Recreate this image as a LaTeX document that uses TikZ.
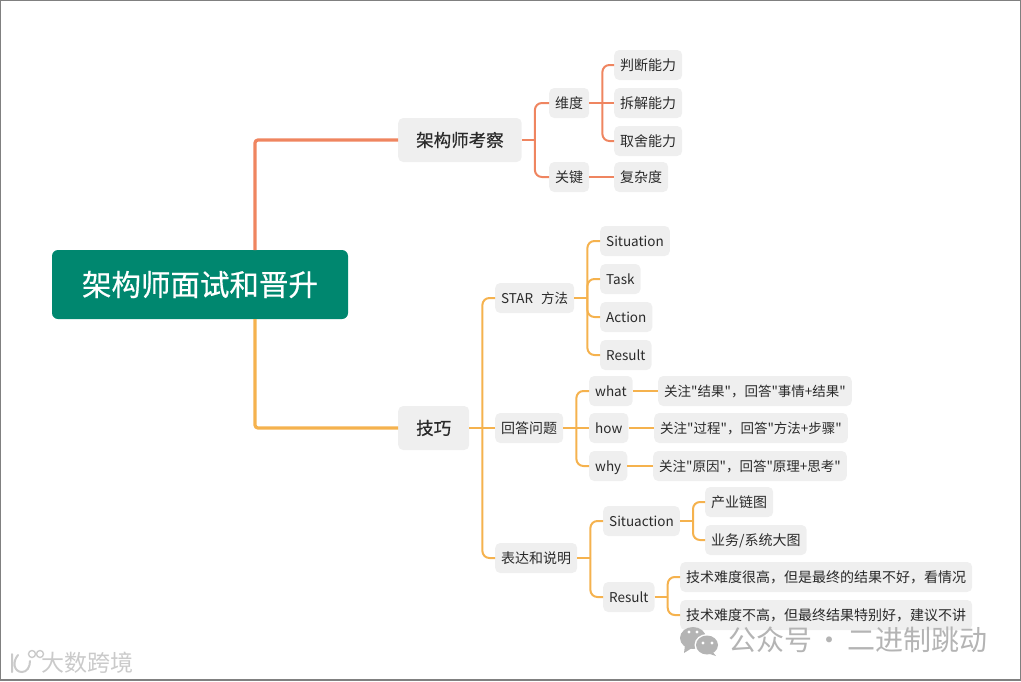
\documentclass[tikz,border=0pt]{standalone}
\usepackage{fontspec}
\setmainfont{Noto Sans CJK SC}[Ligatures=TeXOff]
\newfontfamily\headfont{Noto Sans CJK SC}[FakeBold=0.5]
\definecolor{rootgreen}{HTML}{00876F}
\definecolor{boxgray}{HTML}{EFEFEF}
\definecolor{redline}{HTML}{EF8560}
\definecolor{amberline}{HTML}{F5B24E}
\definecolor{inkgray}{HTML}{2A2A2A}
\definecolor{markgray}{HTML}{B4B4B4}
\tikzset{
  rootbox/.style={rectangle, rounded corners=6pt, fill=rootgreen, text=white,
    minimum width=296pt, minimum height=69pt, inner sep=0pt,
    font=\headfont\fontsize{29.5}{32}\selectfont},
  topicbox/.style={rectangle, rounded corners=5pt, fill=boxgray, text=inkgray,
    anchor=west, minimum height=44pt, inner xsep=18pt, inner ysep=0pt,
    font=\headfont\fontsize{17.5}{20}\selectfont},
  leafbox/.style={rectangle, rounded corners=5pt, fill=boxgray, text=inkgray,
    anchor=west, minimum height=30pt, inner xsep=6pt, inner ysep=0pt,
    text height=12pt, text depth=2pt,
    font=\fontsize{14}{16}\selectfont},
  latinbox/.style={leafbox, font=\fontsize{13.5}{16}\selectfont},
  mainred/.style={draw=redline, line width=3.2pt, rounded corners=3pt},
  mainamber/.style={draw=amberline, line width=3.2pt, rounded corners=3pt},
  redbranch/.style={draw=redline, line width=2pt, rounded corners=7pt},
  amberbranch/.style={draw=amberline, line width=2pt, rounded corners=7pt},
  wmark/.style={inner sep=0pt, text=markgray}
}
\begin{document}
\begin{tikzpicture}[x=1pt, y=-1pt]
\useasboundingbox (0,0) rectangle (1021,681);
\draw[gray, line width=1.2pt] (0.5,0.5) rectangle (1020.5,680);

%% ── Topics and leaves ──────────────────────────────────
\node[rootbox] (root) at (200,284.5) {架构师面试和晋升};

\node[topicbox] (kaocha) at (398,140) {架构师考察};
\node[leafbox] (weidu)   at (549,103) {维度};
\node[leafbox] (guanjian) at (549,177) {关键};
\node[leafbox] (panduan) at (614,65)  {判断能力};
\node[leafbox] (chaijie) at (614,103) {拆解能力};
\node[leafbox] (qushe)   at (614,141) {取舍能力};
\node[leafbox] (fuza)    at (614,177) {复杂度};

\node[topicbox] (jiqiao) at (398,428) {技巧};
\node[latinbox] (star)      at (495,298) {STAR\hspace{8pt}方法};
\node[latinbox] (situation) at (600,241) {Situation};
\node[latinbox] (task)      at (600,279) {Task};
\node[latinbox] (action)    at (600,317) {Action};
\node[latinbox] (result)    at (600,355) {Result};

\node[leafbox] (huida) at (495,428) {回答问题};
\node[latinbox] (what)  at (589,391) {what};
\node[latinbox] (how)   at (589,428) {how};
\node[latinbox] (why)   at (589,466) {why};
\node[latinbox] (whatnote) at (658,391) {关注"结果"，回答"事情+结果"};
\node[latinbox] (hownote)  at (654,428) {关注"过程"，回答"方法+步骤"};
\node[latinbox] (whynote)  at (653,466) {关注"原因"，回答"原理+思考"};

\node[leafbox] (biaoda)  at (495,558) {表达和说明};
\node[latinbox] (situact) at (603,521) {Situaction};
\node[leafbox] (lian)    at (705,502) {产业链图};
\node[leafbox] (datu)    at (705,540) {业务/系统大图};
\node[latinbox] (resulttwo) at (603,597) {Result};
\node[leafbox] (nanhigh) at (680,577) {技术难度很高，但是最终的结果不好，看情况};
\node[leafbox] (nanlow)  at (680,615) {技术难度不高，但最终结果特别好，建议不讲};

%% ── Connections ────────────────────────────────────────
\coordinate (rootup)   at (255,250);
\coordinate (rootdown) at (255,319);
\draw[mainred]   (rootup)   |- (kaocha.west);
\draw[mainamber] (rootdown) |- (jiqiao.west);

% upper branch
\draw[redbranch] (kaocha.east) -- ++(13,0);
\draw[redbranch] (kaocha.east) ++(13,0) |- (weidu.west);
\draw[redbranch] (kaocha.east) ++(13,0) |- (guanjian.west);
\draw[redbranch] (weidu.east) -- (chaijie.west);
\draw[redbranch] (weidu.east) ++(13,0) |- (panduan.west);
\draw[redbranch] (weidu.east) ++(13,0) |- (qushe.west);
\draw[redbranch] (guanjian.east) -- (fuza.west);

% lower branch
\draw[amberbranch] (jiqiao.east) -- (huida.west);
\draw[amberbranch] (jiqiao.east) ++(13,0) |- (star.west);
\draw[amberbranch] (jiqiao.east) ++(13,0) |- (biaoda.west);
\draw[amberbranch] (star.east) -- ++(13,0);
\draw[amberbranch] (star.east) ++(13,0) |- (situation.west);
\draw[amberbranch] (star.east) ++(13,0) |- (task.west);
\draw[amberbranch] (star.east) ++(13,0) |- (action.west);
\draw[amberbranch] (star.east) ++(13,0) |- (result.west);
\draw[amberbranch] (huida.east) -- (how.west);
\draw[amberbranch] (huida.east) ++(13,0) |- (what.west);
\draw[amberbranch] (huida.east) ++(13,0) |- (why.west);
\draw[amberbranch] (what.east) -- (whatnote.west);
\draw[amberbranch] (how.east) -- (hownote.west);
\draw[amberbranch] (why.east) -- (whynote.west);
\draw[amberbranch] (biaoda.east) -- ++(13,0);
\draw[amberbranch] (biaoda.east) ++(13,0) |- (situact.west);
\draw[amberbranch] (biaoda.east) ++(13,0) |- (resulttwo.west);
\draw[amberbranch] (situact.east) -- ++(13,0);
\draw[amberbranch] (situact.east) ++(13,0) |- (lian.west);
\draw[amberbranch] (situact.east) ++(13,0) |- (datu.west);
\draw[amberbranch] (resulttwo.east) -- ++(13,0);
\draw[amberbranch] (resulttwo.east) ++(13,0) |- (nanhigh.west);
\draw[amberbranch] (resulttwo.east) ++(13,0) |- (nanlow.west);

%% ── Watermarks ─────────────────────────────────────────
\fill[markgray] (693,638) ellipse (13pt and 11pt);
\fill[markgray] (685,645) -- (684,653) -- (692,648) -- cycle;
\fill[white] (689,632) circle (1.6pt) (697,632) circle (1.6pt);
\fill[white] (707,645) ellipse (12.5pt and 11pt);
\fill[markgray] (707,645) ellipse (11pt and 9.5pt);
\fill[markgray] (712,651) -- (716,656) -- (707,653) -- cycle;
\fill[white] (703,643) circle (1.6pt) (712,643) circle (1.6pt);
\node[wmark, anchor=west, font=\fontsize{28}{30}\selectfont] (gongzhong) at (728,640) {公众号\hspace{3.5pt}·\hspace{3.5pt}二进制跳动};
\node[wmark, anchor=west, text=markgray!70, font=\fontsize{23}{26}\selectfont] (dashu) at (41,663) {大数跨境};
\draw[markgray!70, line width=2pt, line cap=round] (12,654) -- (12,672)
  (18,655) .. controls (12,662) and (14,672) .. (22,672) .. controls (27,672) and (30,667) .. (30,661);
\draw[markgray!70, line width=1.4pt] (32,654) circle (3.5pt) (40,654) circle (3.5pt);
\end{tikzpicture}
\end{document}
